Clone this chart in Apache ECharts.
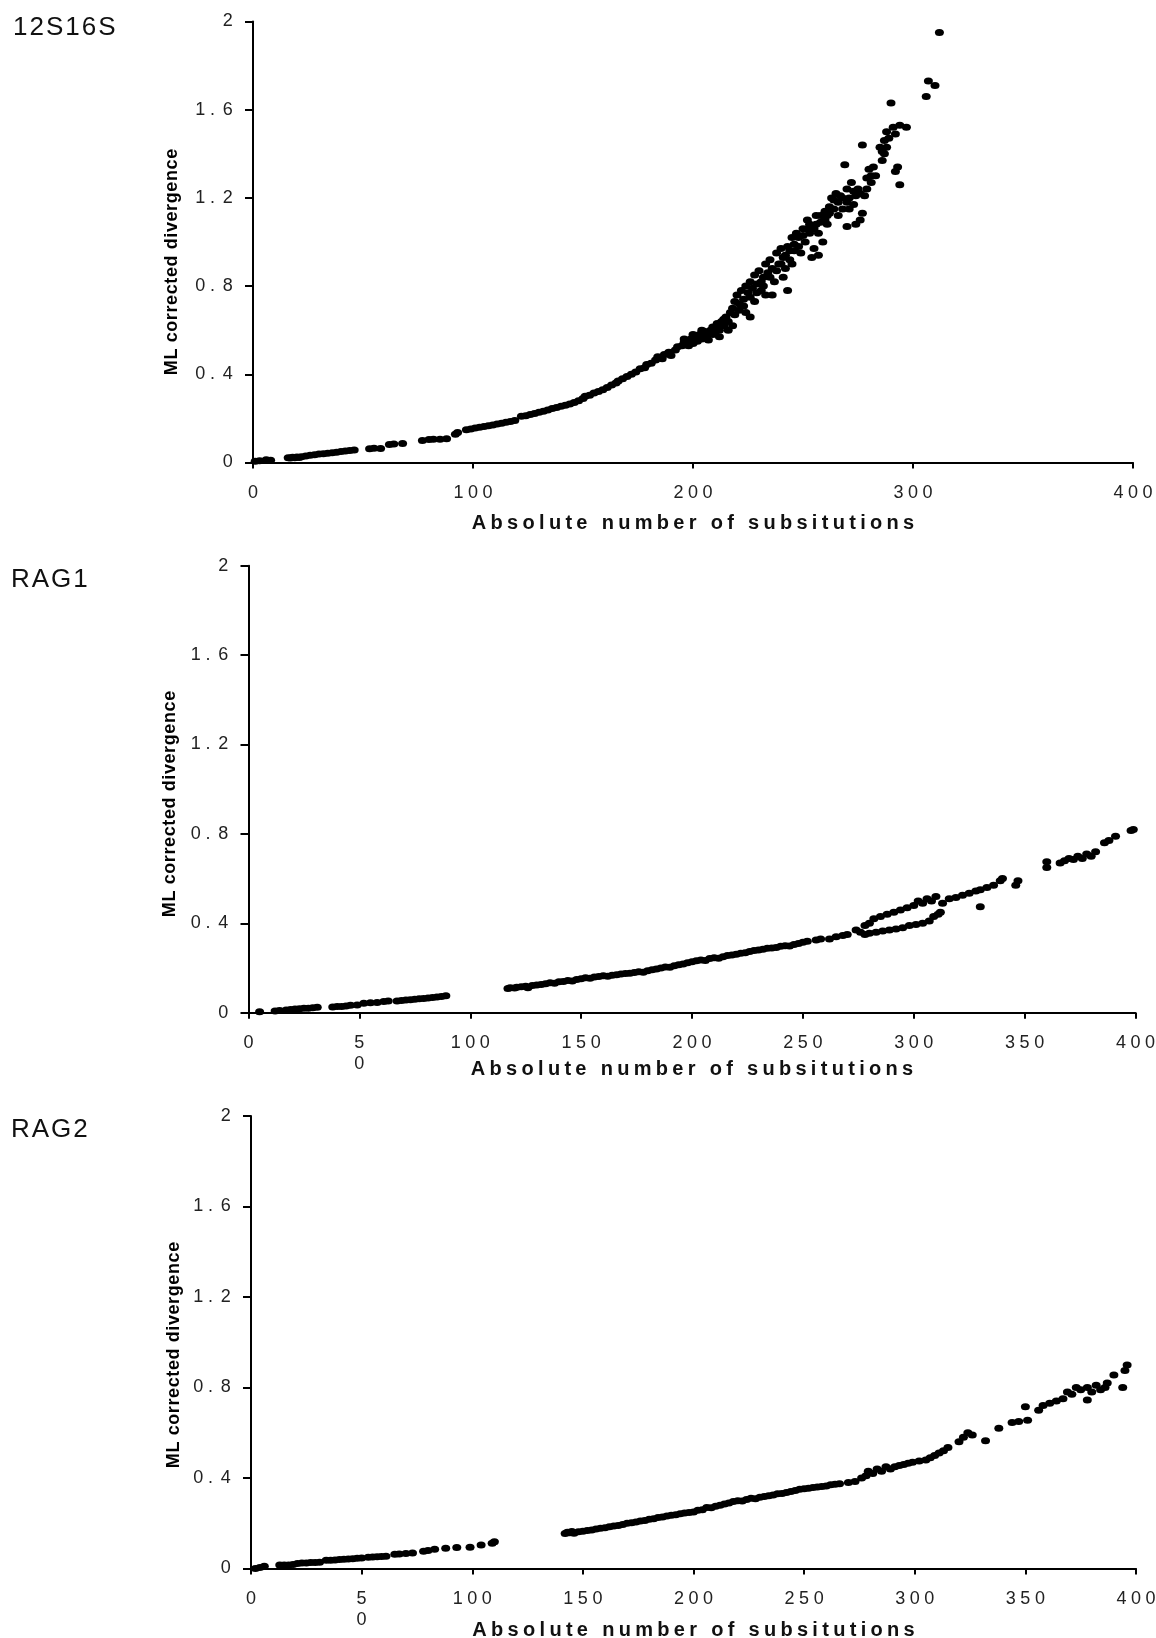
<!DOCTYPE html>
<html>
<head>
<meta charset="utf-8">
<title>ML corrected divergence vs substitutions</title>
<script src="https://cdn.jsdelivr.net/npm/echarts@6/dist/echarts.min.js"></script>
<style>
  html, body { margin: 0; padding: 0; background: #fff; }
  #chart { width: 1156px; height: 1638px; }
</style>
</head>
<body>
<div id="chart"></div>
<script>
// panel names
const panelNames = ['12S16S', 'RAG1', 'RAG2'];
const xTitle = 'Absolute number of subsitutions';
const yTitle = 'ML corrected divergence';

// axis ranges (tick labels come from these)
const yMin = 0, yMax = 2, yStep = 0.4;
const xMin = 0, xMax = 400;
const xSteps = [100, 50, 50];

// [substitutions, divergence]
const pts12S16S = [
  [1,0.006],[3,0.008],[6,0.012],[8,0.01],
  [16,0.022],[17,0.02],[18,0.024],[19,0.022],[20,0.025],[21,0.023],[22,0.026],
  [24,0.03],[26,0.033],[28,0.035],[30,0.038],[32,0.04],[34,0.042],[36,0.044],[38,0.047],[40,0.05],[42,0.052],[44,0.054],[46,0.057],
  [53,0.062],[55,0.065],[58,0.064],
  [62,0.082],[64,0.084],[68,0.086],
  [77,0.1],[80,0.104],[82,0.105],[85,0.106],[88,0.108],
  [92,0.128],[93,0.136],
  [97,0.148],[99,0.152],[101,0.156],[103,0.16],[105,0.163],[107,0.167],[109,0.17],[111,0.175],[113,0.178],[115,0.182],[117,0.186],[119,0.19],
  [122,0.21],[124,0.212],[126,0.218],[128,0.222],[130,0.228],[132,0.232],[134,0.238],[136,0.245],[138,0.25],[140,0.255],[142,0.26],
  [144,0.265],[146,0.272],[148,0.28],[150,0.29],[151,0.3],[153,0.305],[155,0.315],[157,0.322],[159,0.33],[161,0.34],[163,0.352],[165,0.36],[166,0.37],[168,0.38],
  [170,0.39],[172,0.4],[174,0.41],[176,0.425],[178,0.43],[179,0.445],[181,0.45],[183,0.465],[184,0.48],[186,0.47],[187,0.49],[189,0.5],[190,0.485],
  [192,0.51],[193,0.525],[195,0.53],[196,0.545],[198,0.55],[199,0.56],[200,0.54],[201,0.57],[203,0.58],[204,0.56],[205,0.595],[206,0.575],
  [208,0.6],[209,0.615],[210,0.59],[211,0.63],[212,0.6],[213,0.64],[214,0.62],[215,0.66],[216,0.6],[217,0.68],[218,0.7],[219,0.73],
  [220,0.76],[221,0.72],[222,0.78],[223,0.74],[224,0.8],[225,0.77],[226,0.66],[226,0.82],[227,0.79],[228,0.85],[229,0.81],[230,0.87],
  [231,0.78],[232,0.84],[233,0.9],[234,0.86],[235,0.92],[236,0.76],[236,0.88],[238,0.95],[239,0.9],[240,0.97],[241,0.84],[242,0.94],
  [243,0.78],[243,0.98],[244,0.92],[245,1.02],[246,0.96],[247,1.04],[248,0.98],[250,1.06],[251,1.0],[252,1.1],[253,1.04],[254,0.93],
  [255,0.97],[256,1.08],[257,0.94],[258,1.12],[259,1.0],[260,1.14],[261,1.08],[262,1.16],[264,1.19],[265,1.22],[266,1.12],[268,1.15],
  [269,1.35],[270,1.07],[270,1.18],[271,1.2],[272,1.27],[273,1.23],[274,1.08],[275,1.24],[276,1.1],[277,1.44],[277,1.13],[278,1.21],
  [279,1.29],[280,1.33],[281,1.3],[282,1.34],[286,1.37],[286,1.41],[287,1.46],[288,1.43],[288,1.5],[290,1.63],[291,1.52],[292,1.32],
  [292,1.49],[293,1.34],[294,1.53],[294,1.26],[297,1.52],[306,1.66],[307,1.73],[310,1.71],[312,1.95],
  // thick part of the cloud
  [196,0.56],[198,0.53],[200,0.58],[202,0.55],[204,0.6],[206,0.59],[207,0.555],[209,0.58],[211,0.61],[212,0.57],[214,0.65],[216,0.64],
  [218,0.62],[219,0.67],[221,0.69],[223,0.71],[224,0.68],[226,0.75],[228,0.73],[229,0.77],[231,0.82],[232,0.8],[233,0.76],[235,0.84],
  [237,0.82],[238,0.87],[240,0.9],[241,0.93],[242,0.88],[244,0.96],[245,0.9],[246,0.99],[248,1.02],[249,0.95],[250,1.03],[252,1.06],
  [253,1.08],[255,1.06],[256,1.12],[257,1.04],[258,1.09],[260,1.1],[261,1.12],[262,1.13],[263,1.2],[264,1.15],[266,1.18],[267,1.21],
  [268,1.2],[270,1.24],[271,1.15],[273,1.17],[274,1.21],[276,1.22],[279,1.24],[281,1.27],[283,1.3],[285,1.43],[287,1.4],[289,1.47]
];

const ptsRAG1 = [
  [5,0.004],[12,0.008],[14,0.01],[17,0.012],[19,0.014],[21,0.016],[23,0.018],[25,0.02],[27,0.02],[29,0.022],[31,0.024],
  [38,0.026],[40,0.028],[42,0.028],[44,0.03],[46,0.033],[49,0.034],
  [52,0.042],[55,0.044],[58,0.046],[61,0.05],[63,0.052],
  [67,0.052],[69,0.055],[71,0.057],[73,0.058],[75,0.06],[77,0.062],[79,0.064],[81,0.066],[83,0.068],[85,0.07],[87,0.072],[89,0.076],
  [117,0.108],[118,0.112],[120,0.11],[121,0.114],[123,0.116],[125,0.118],[126,0.112],[128,0.122],[130,0.124],[132,0.126],[134,0.13],
  [136,0.134],[138,0.132],[140,0.138],[142,0.14],[144,0.144],[146,0.142],[148,0.148],[150,0.152],[152,0.156],[154,0.154],[156,0.16],
  [158,0.162],[160,0.165],[162,0.163],[164,0.168],[166,0.17],[168,0.173],[170,0.175],[172,0.177],[174,0.18],[176,0.183],[178,0.181],
  [180,0.188],[182,0.192],[184,0.195],[186,0.2],[188,0.205],[190,0.203],[192,0.21],[194,0.215],[196,0.218],[198,0.224],[200,0.228],
  [202,0.232],[204,0.236],[206,0.234],[208,0.242],[210,0.246],[212,0.244],[214,0.25],[216,0.256],[218,0.258],[220,0.262],[222,0.266],
  [224,0.268],[226,0.274],[228,0.278],[230,0.28],[232,0.284],[234,0.288],[236,0.29],[238,0.292],[240,0.297],[242,0.3],[244,0.298],
  [246,0.305],[248,0.31],[250,0.315],[252,0.32],[256,0.325],[258,0.33],[262,0.33],[265,0.34],[268,0.345],[270,0.35],
  [274,0.37],[276,0.36],[278,0.39],[280,0.4],[282,0.42],[285,0.43],[288,0.44],[291,0.45],[294,0.46],[297,0.47],[300,0.48],
  [302,0.5],[304,0.49],[306,0.51],[308,0.5],[310,0.52],[313,0.49],
  [278,0.35],[280,0.355],[283,0.36],[286,0.365],[289,0.37],[292,0.375],[295,0.38],[298,0.39],[301,0.395],[304,0.4],[307,0.41],
  [309,0.43],[311,0.44],[312,0.45],
  [316,0.51],[319,0.515],[322,0.525],[325,0.535],[328,0.545],[330,0.55],[333,0.56],[336,0.57],[339,0.59],[340,0.6],[330,0.474],
  [346,0.57],[347,0.59],[360,0.65],[360,0.675],[366,0.67],[368,0.68],[370,0.69],[372,0.685],[374,0.7],[376,0.69],[378,0.71],
  [380,0.7],[382,0.72],[386,0.76],[388,0.77],[391,0.79],[398,0.815],[399,0.82]
];

const ptsRAG2 = [
  [2,0.0],[4,0.004],[6,0.01],[13,0.015],[15,0.016],[17,0.016],[19,0.018],[21,0.022],[23,0.024],[25,0.024],[27,0.026],[29,0.026],[31,0.028],
  [34,0.036],[36,0.037],[38,0.038],[40,0.04],[42,0.041],[44,0.042],[46,0.043],[48,0.045],[50,0.046],
  [53,0.05],[55,0.051],[57,0.052],[59,0.053],[61,0.054],
  [65,0.063],[67,0.064],[70,0.066],[73,0.068],
  [78,0.076],[80,0.08],[83,0.085],
  [88,0.09],[93,0.093],[99,0.094],[104,0.104],[109,0.112],[110,0.118],
  [142,0.155],[143,0.16],[144,0.158],[145,0.163],[146,0.156],[148,0.162],[150,0.165],[152,0.168],[154,0.17],[156,0.175],[158,0.178],
  [160,0.18],[162,0.184],[164,0.188],[166,0.19],[168,0.195],[170,0.2],[172,0.202],[174,0.205],[176,0.21],[178,0.212],[180,0.218],
  [182,0.22],[184,0.225],[186,0.228],[188,0.232],[190,0.235],[192,0.238],[194,0.242],[196,0.245],[198,0.248],
  [200,0.25],[202,0.258],[204,0.26],[206,0.27],[208,0.268],[210,0.275],[212,0.28],[214,0.285],[216,0.29],[218,0.296],[220,0.3],
  [222,0.298],[224,0.305],[226,0.31],[228,0.308],[230,0.315],[232,0.318],[234,0.322],[236,0.325],[238,0.33],[240,0.332],[242,0.336],
  [244,0.34],[246,0.345],[248,0.35],[250,0.352],[252,0.355],[254,0.358],[256,0.36],[258,0.362],[260,0.365],[262,0.37],[264,0.372],[266,0.375],
  [270,0.38],[273,0.385],[276,0.4],[278,0.41],[279,0.43],[281,0.42],[283,0.44],[285,0.43],[287,0.45],[289,0.44],[291,0.45],[293,0.455],
  [295,0.46],[297,0.465],[299,0.47],[302,0.475],[305,0.48],[307,0.49],[309,0.5],[311,0.51],[313,0.52],[315,0.535],[320,0.56],[322,0.58],
  [324,0.6],[326,0.59],[332,0.565],[338,0.62],[344,0.645],[347,0.65],[351,0.655],[350,0.715],[356,0.7],[358,0.72],[361,0.73],[364,0.74],
  [367,0.75],[369,0.78],[371,0.77],[373,0.8],[375,0.79],[378,0.745],[378,0.8],[380,0.78],[382,0.81],[384,0.79],[386,0.8],[387,0.82],
  [390,0.855],[394,0.8],[395,0.875],[396,0.9]
];

const allPts = [pts12S16S, ptsRAG1, ptsRAG2];

const FONT = '"Liberation Sans", Arial, sans-serif';

// wraps every char in a rich tag, to get the wide letter spacing of the original
// (the dot gets its own tag, it is as wide as a digit in the original)
const spaced = (txt, key, dotKey) => txt.split('').map(ch => {
  if (ch === '\n') return '\n';
  const k = (ch === '.' && dotKey) ? dotKey : key;
  return '{' + k + '|' + ch + '}';
}).join('');

// grid boxes of the 3 panels
const grids = [
  { left: 253, right: 23, top: 21.5, height: 441 },
  { left: 248.5, right: 20.5, top: 565.7, height: 447 },
  { left: 251, right: 20, top: 1116, height: 452.5 }
];
const nameGaps = [50, 46, 51];
const yNamePos = [[172, 262], [170, 804], [174, 1355]];
const titlePos = [[12, 28], [10, 580], [10, 1130]];

const chart = echarts.init(document.getElementById('chart'), null, { renderer: 'canvas' });

const labelRich = {
  c: { fontFamily: FONT, fontSize: 18, color: '#222', padding: [0, 2.3], lineHeight: 21 },
  d: { fontFamily: FONT, fontSize: 18, color: '#222', padding: [0, 5.5, 0, 2.3], lineHeight: 21 }
};

let option = {
  animation: false,
  backgroundColor: '#fff',
  grid: grids.map(g => Object.assign({ outerBoundsMode: 'none', containLabel: false }, g)),
  xAxis: grids.map((g, i) => ({
    gridIndex: i,
    type: 'value',
    min: xMin,
    max: xMax,
    interval: xSteps[i],
    name: spaced(xTitle, 't'),
    nameLocation: 'middle',
    nameGap: nameGaps[i],
    nameMoveOverlap: false,
    nameTextStyle: {
      rich: { t: { fontFamily: FONT, fontSize: 20, fontWeight: 'bold', color: '#111', padding: [0, 2.15], lineHeight: 22 } }
    },
    axisLine: { show: true, onZero: false, lineStyle: { color: '#000', width: 2 } },
    axisTick: { show: true, length: 6, lineStyle: { color: '#000', width: 2 } },
    splitLine: { show: false },
    axisLabel: {
      margin: 20,
      formatter: v => (i > 0 && v === 50) ? spaced('5\n0', 'c') : spaced(String(v), 'c'),
      rich: labelRich
    }
  })),
  yAxis: grids.map((g, i) => ({
    gridIndex: i,
    type: 'value',
    min: yMin,
    max: yMax,
    interval: yStep,
    axisLine: { show: true, onZero: false, lineStyle: { color: '#000', width: 2 } },
    axisTick: { show: true, length: 8, lineStyle: { color: '#000', width: 2 } },
    splitLine: { show: false },
    axisLabel: {
      margin: 18,
      formatter: v => spaced(String(parseFloat(v.toFixed(2))), 'c', 'd'),
      rich: labelRich
    }
  })),
  graphic: [].concat(
    panelNames.map((n, i) => ({
      type: 'text',
      x: titlePos[i][0],
      y: titlePos[i][1],
      style: {
        text: spaced(n, 'p'),
        rich: { p: { fontFamily: FONT, fontSize: 26, fill: '#111', padding: [0, 1] } },
        align: 'left', textAlign: 'left',
        verticalAlign: 'middle', textVerticalAlign: 'middle'
      }
    })),
    yNamePos.map(p => ({
      type: 'text',
      x: p[0],
      y: p[1],
      rotation: Math.PI / 2,
      style: {
        text: spaced(yTitle, 'n'),
        rich: { n: { fontFamily: FONT, fontSize: 18, fontWeight: 'bold', fill: '#000', padding: [0, 0.3] } },
        align: 'center', textAlign: 'center',
        verticalAlign: 'middle', textVerticalAlign: 'middle'
      }
    }))
  ),
  series: allPts.map((pts, i) => ({
    name: panelNames[i],
    type: 'scatter',
    xAxisIndex: i,
    yAxisIndex: i,
    data: pts,
    symbol: 'circle',
    symbolSize: [9, 7],
    itemStyle: { color: '#000', opacity: 1 }
  }))
};

chart.setOption(option);
</script>
</body>
</html>
